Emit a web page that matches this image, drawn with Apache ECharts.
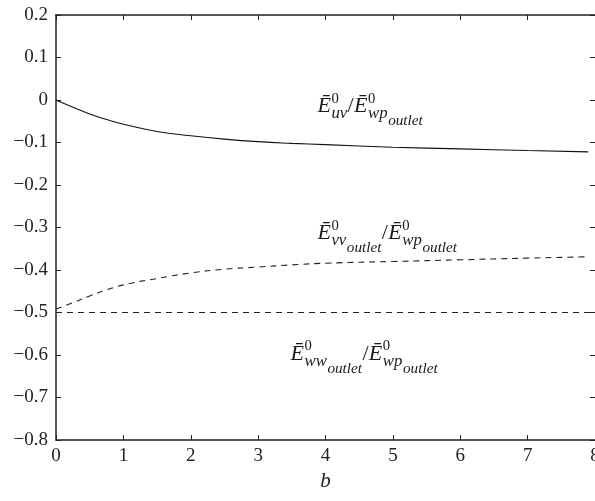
<!DOCTYPE html>
<html>
<head>
<meta charset="utf-8">
<script src="https://cdn.jsdelivr.net/npm/echarts@6/dist/echarts.min.js"></script>
<style>
html,body{margin:0;padding:0;background:#fff;}
#chart{width:595px;height:501px;}
</style>
</head>
<body>
<div id="chart"></div>
<script>
// ---- data ----
const bValues = [0, 0.25, 0.5, 0.75, 1, 1.5, 2, 2.5, 3, 3.5, 4, 5, 6, 7, 7.9];
const uvRatio = [0, -0.017, -0.033, -0.046, -0.057, -0.074, -0.084, -0.092, -0.098, -0.102, -0.105, -0.111, -0.115, -0.119, -0.122];
const vvRatio = [-0.492, -0.477, -0.461, -0.447, -0.435, -0.420, -0.407, -0.398, -0.393, -0.388, -0.384, -0.380, -0.376, -0.372, -0.369];
const wwB = [0, 8];
const wwRatio = [-0.5, -0.5];
const xTicks = [0, 1, 2, 3, 4, 5, 6, 7, 8];
const yTicks = [-0.8, -0.7, -0.6, -0.5, -0.4, -0.3, -0.2, -0.1, 0, 0.1, 0.2];
// label anchors (data coords: left edge, baseline of main E)
const labelAnchors = [[3.88, -0.030], [3.88, -0.329], [3.48, -0.613]];
const labelSubs = [['uv', null], ['vv', 'outlet'], ['ww', 'outlet']];

const SERIF = '"Liberation Serif","Times New Roman",serif';
const zip = (a, b) => a.map((v, i) => [v, b[i]]);
const fmtY = v => {
  if (Math.abs(v) < 1e-9) return '0';
  return (v < 0 ? '\u2212' : '') + Math.abs(v).toFixed(1);
};

const chart = echarts.init(document.getElementById('chart'), null, {renderer: 'canvas'});
const mkLine = () => ({show: true, onZero: false, lineStyle: {color: '#222', width: 1.5}});
const mkTick = () => ({show: true, inside: true, length: 5, lineStyle: {color: '#222', width: 1}});
const labelStyle = {color: '#222', fontFamily: SERIF, fontSize: 19};

chart.setOption({
  animation: false,
  backgroundColor: '#fff',
  grid: {left: 56, right: 0, top: 15, bottom: 61, containLabel: false, outerBoundsMode: 'none'},
  xAxis: [{
    type: 'value', min: xTicks[0], max: xTicks[xTicks.length - 1], interval: 1,
    position: 'bottom',
    axisLine: mkLine(), axisTick: mkTick(), splitLine: {show: false},
    axisLabel: {...labelStyle, margin: 7, formatter: v => String(v), hideOverlap: false},
    name: 'b', nameLocation: 'middle', nameGap: 31,
    nameTextStyle: {color: '#222', fontFamily: SERIF, fontSize: 21, fontStyle: 'italic'}
  }, {
    type: 'value', min: xTicks[0], max: xTicks[xTicks.length - 1], interval: 1,
    position: 'top',
    axisLine: mkLine(), axisTick: mkTick(), splitLine: {show: false}, axisLabel: {show: false}
  }],
  yAxis: [{
    type: 'value', min: yTicks[0], max: yTicks[yTicks.length - 1], interval: 0.1,
    position: 'left',
    axisLine: mkLine(), axisTick: mkTick(), splitLine: {show: false},
    axisLabel: {...labelStyle, margin: 8, formatter: fmtY}
  }, {
    type: 'value', min: yTicks[0], max: yTicks[yTicks.length - 1], interval: 0.1,
    position: 'right',
    axisLine: {show: false, onZero: false}, axisTick: mkTick(), splitLine: {show: false}, axisLabel: {show: false}
  }],
  series: [{
    type: 'line', data: zip(bValues, uvRatio), smooth: true, symbol: 'none',
    lineStyle: {color: '#111', width: 1.1, type: 'solid'}
  }, {
    type: 'line', data: zip(bValues, vvRatio), smooth: true, symbol: 'none',
    lineStyle: {color: '#222', width: 1.1, type: [6, 5]}
  }, {
    type: 'line', data: zip(wwB, wwRatio), symbol: 'none',
    lineStyle: {color: '#222', width: 1.1, type: [6, 5]}
  }]
});

// ---- math-like labels ----
const ctx = document.createElement('canvas').getContext('2d');
function measure(text, font) { ctx.font = font; return ctx.measureText(text).width; }
const SZ = {main: 21, sup: 14, sub: 16, subsub: 14.5};
const BL = {main: 0, sup: -10, sub: 5.5, subsub: 12.6};
function fontOf(size, italic) { return (italic ? 'italic ' : '') + size + 'px ' + SERIF; }

function buildLabel(anchor, sub1, subsub1) {
  const [px, py] = chart.convertToPixel({gridIndex: 0}, anchor);
  const children = [];
  let x = 0;
  function put(text, kind, italic, atX) {
    const size = SZ[kind];
    const font = fontOf(size, italic);
    children.push({
      type: 'text', x: atX, y: BL[kind] + 0.22 * size,
      style: {text, font, fill: '#1a1a1a', align: 'left', verticalAlign: 'bottom'}
    });
    return measure(text, font);
  }
  function ebar(sub, subsub) {
    const w = put('\u0112', 'main', true, x);
    const sx = x + w + 0.5;
    const wsup = put('0', 'sup', false, sx);
    let wsub = put(sub, 'sub', true, sx);
    if (subsub) wsub += 0.5 + put(subsub, 'subsub', true, sx + wsub + 0.5);
    x = sx + Math.max(wsup, wsub);
  }
  ebar(sub1, subsub1);
  x += 0.3;
  x += put('/', 'main', false, x) + 0.3;
  ebar('wp', 'outlet');
  return {type: 'group', x: px, y: py, scaleX: 1.05, scaleY: 1, children};
}

chart.setOption({
  graphic: labelAnchors.map((a, i) => buildLabel(a, labelSubs[i][0], labelSubs[i][1]))
});
</script>
</body>
</html>
